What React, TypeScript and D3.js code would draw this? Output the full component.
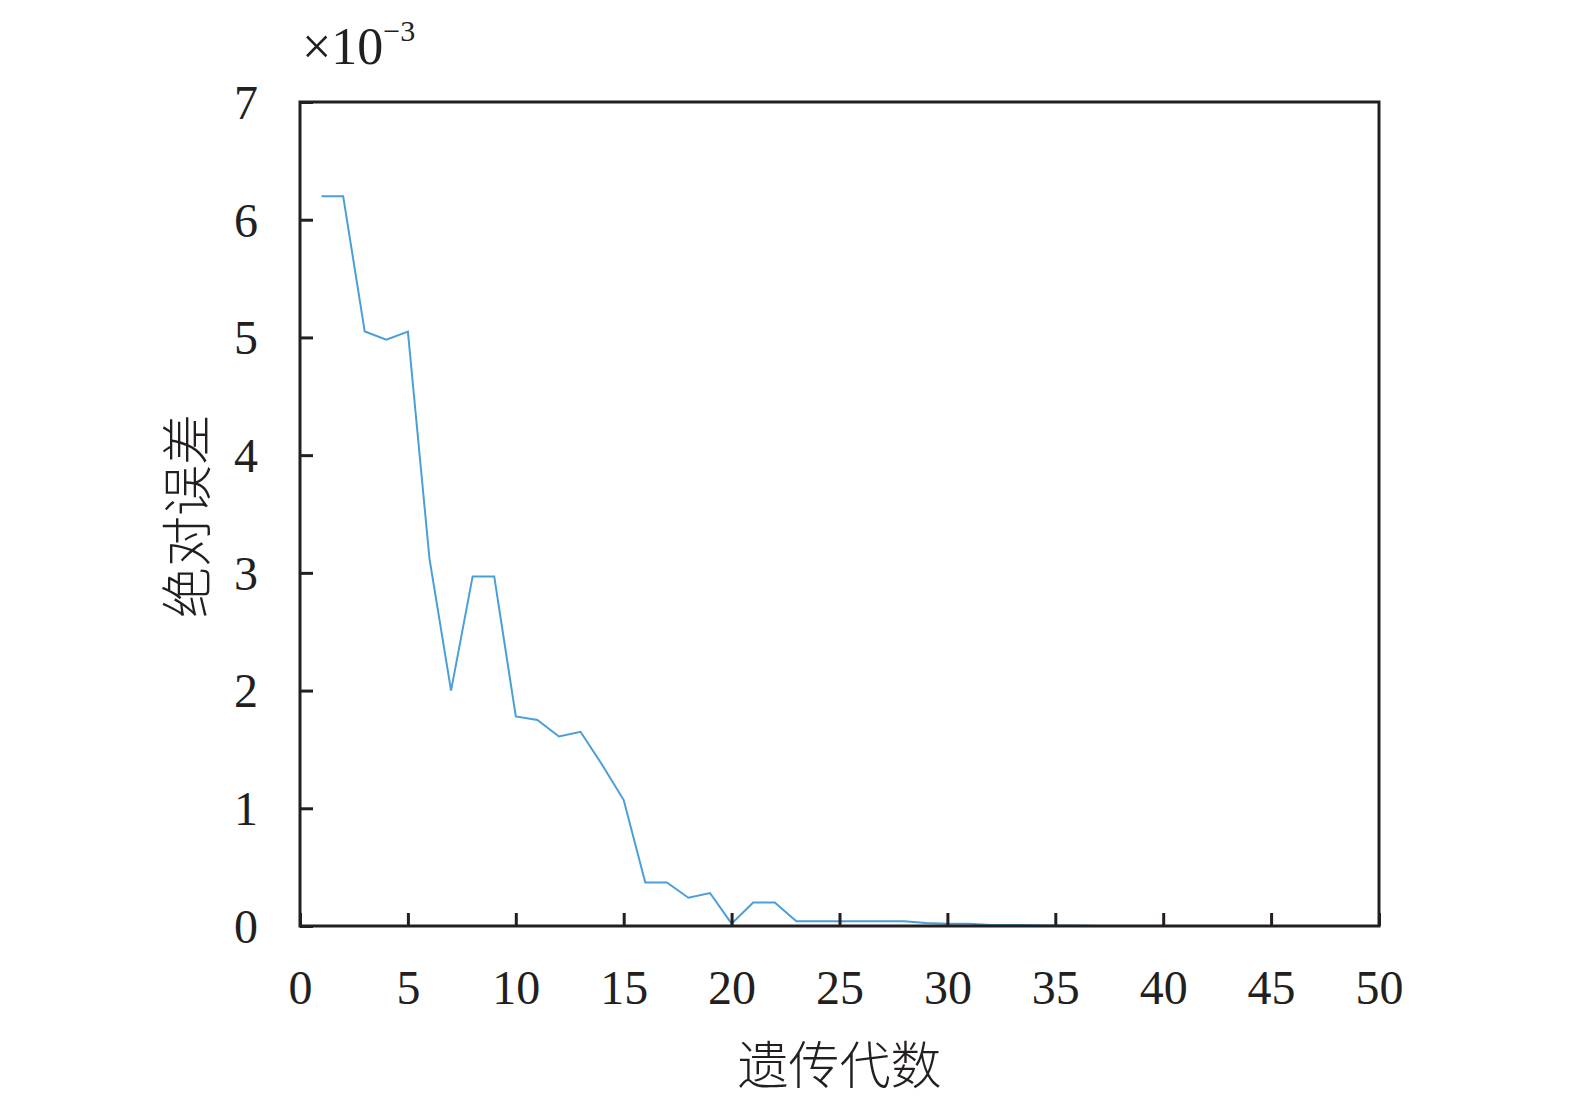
import * as d3 from "d3";
import { useEffect, useRef } from "react";

// generation number and absolute error (x10^-3)
const generations = d3.range(1, 51);
const absError = [
  6.2, 6.2, 5.05, 4.98, 5.05, 3.12, 2.0, 2.97, 2.97, 1.78,
  1.75, 1.61, 1.65, 1.37, 1.07, 0.37, 0.37, 0.24, 0.28, 0.02,
  0.2, 0.2, 0.04, 0.04, 0.04, 0.04, 0.04, 0.04, 0.025, 0.02,
  0.02, 0.008, 0.008, 0.006, 0.005, 0.004, 0, 0, 0, 0,
  0, 0, 0, 0, 0, 0, 0, 0, 0, 0,
];
const xTicks = [0, 5, 10, 15, 20, 25, 30, 35, 40, 45, 50];
const yTicks = [0, 1, 2, 3, 4, 5, 6, 7];

const xLabel = "遗传代数";
const yLabel = "绝对误差";

export default function App() {
  const ref = useRef<SVGSVGElement>(null);
  const width = 1575,
    height = 1102;
  const margin = [102, 196, 176, 300]; // top right bottom left

  useEffect(() => {
    const svg = d3.select(ref.current);
    svg.selectAll("*").remove();

    const x = d3.scaleLinear().domain([0, 50]).range([margin[3], width - margin[1]]);
    const y = d3.scaleLinear().domain([0, 7]).range([height - margin[2], margin[0]]);
    const serif = "'Liberation Serif', 'Times New Roman', serif";
    const ink = "#231f20";

    // data line
    const line = d3
      .line<number>()
      .x((_, i) => x(generations[i]))
      .y((d) => y(d));
    svg
      .append("path")
      .datum(absError)
      .attr("d", line)
      .attr("fill", "none")
      .attr("stroke", "#4a9fd8")
      .attr("stroke-width", 2);

    // frame
    svg
      .append("rect")
      .attr("x", x(0))
      .attr("y", y(7))
      .attr("width", x(50) - x(0))
      .attr("height", y(0) - y(7))
      .attr("fill", "none")
      .attr("stroke", ink)
      .attr("stroke-width", 3);

    // bottom axis, ticks inside
    const xAxis = svg
      .append("g")
      .attr("transform", `translate(0,${y(0)})`)
      .call(d3.axisBottom(x).tickValues(xTicks).tickSize(-13).tickPadding(0).tickFormat(d3.format("d")));
    xAxis.select(".domain").remove();
    xAxis.selectAll("line").attr("stroke", ink).attr("stroke-width", 3);
    xAxis
      .selectAll("text")
      .attr("y", 78)
      .attr("dy", null)
      .attr("fill", ink)
      .style("font-family", serif)
      .style("font-size", "48px");

    // left axis, ticks inside
    const yAxis = svg
      .append("g")
      .attr("transform", `translate(${x(0)},0)`)
      .call(d3.axisLeft(y).tickValues(yTicks).tickSize(-13).tickFormat(d3.format("d")));
    yAxis.select(".domain").remove();
    yAxis.selectAll("line").attr("stroke", ink).attr("stroke-width", 3);
    yAxis
      .selectAll("text")
      .attr("x", -42)
      .attr("dy", "0.34em")
      .attr("fill", ink)
      .style("font-family", serif)
      .style("font-size", "48px");

    // exponent
    const expo = svg
      .append("text")
      .attr("x", x(0) + 2)
      .attr("y", 64)
      .attr("fill", ink)
      .style("font-family", serif)
      .style("font-size", "52px");
    expo.append("tspan").text("×10");
    expo
      .append("tspan")
      .attr("dy", -23)
      .style("font-size", "30px")
      .text("−3");

    // axis titles
    svg
      .append("text")
      .attr("x", (x(0) + x(50)) / 2)
      .attr("y", 1084)
      .attr("text-anchor", "middle")
      .attr("fill", ink)
      .style("font-family", "'Noto Sans CJK SC', sans-serif")
      .style("font-weight", 300)
      .style("font-size", "51px")
      .text(xLabel);

    svg
      .append("text")
      .attr("transform", `translate(206,${(y(0) + y(7)) / 2 + 2}) rotate(-90)`)
      .attr("text-anchor", "middle")
      .attr("fill", ink)
      .style("font-family", "'Noto Sans CJK SC', sans-serif")
      .style("font-weight", 300)
      .style("font-size", "51px")
      .text(yLabel);
  }, []);

  return (
    <svg
      ref={ref}
      width={width}
      height={height}
      style={{ position: "absolute", left: 0, top: 0, background: "white" }}
    />
  );
}
